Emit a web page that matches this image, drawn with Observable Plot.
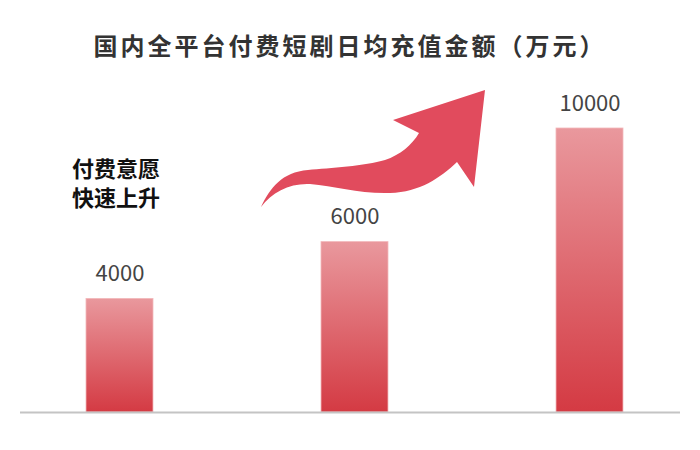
<!DOCTYPE html>
<html>
<head>
<meta charset="utf-8">
<script src="https://cdn.jsdelivr.net/npm/d3@7"></script>
<script src="https://cdn.jsdelivr.net/npm/@observablehq/plot@0.6"></script>
<style>
  body { margin: 0; background: #fff; }
  #title { height: 70px; width: 700px; box-sizing: border-box; padding-top: 29px; padding-left: 0px;
    text-align: center; font-family: "Noto Sans CJK SC", sans-serif; font-weight: bold;
    font-size: 24px; letter-spacing: 3px; color: #333; line-height: 32px; }
</style>
</head>
<body>
<div id="title">国内全平台付费短剧日均充值金额（万元）</div>
<div id="chart"></div>
<script>
const categories = ["A", "B", "C"];
const values = [4000, 6000, 10000];
const noteText = ["付费意愿\n快速上升"];
const noteValue = [8120];

const data = categories.map((c, i) => ({cat: c, value: values[i]}));

const gradientDefs = () => {
  const svg = d3.create("svg:g");
  const grad = svg.append("defs").append("linearGradient")
    .attr("id", "barGrad").attr("x1", 0).attr("y1", 0).attr("x2", 0).attr("y2", 1);
  grad.append("stop").attr("offset", "0%").attr("stop-color", "#e9989d");
  grad.append("stop").attr("offset", "100%").attr("stop-color", "#d43a43");
  return svg.node();
};

const arrowMark = () => {
  const g = d3.create("svg:g").attr("transform", "translate(0,-70)");
  g.append("path")
    .attr("d", "M261,207 C270,188 282,172 308,170 C330,168 365,166 385,160 C400,155 412,145 419,133 L393,120 L485,90 L474,187 L457,162 C440,178 420,192 390,193 C360,194 335,186 310,184 C290,183 272,192 261,207 Z")
    .attr("fill", "#e14b5d");
  return g.node();
};

const chart = Plot.plot({
  width: 700,
  height: 380,
  marginLeft: 20,
  marginRight: 20,
  marginTop: 58,
  marginBottom: 38,
  x: {domain: categories, range: [85.5, 622.5], paddingInner: 0.715, paddingOuter: 0, axis: null},
  y: {domain: [0, 10000], range: [342, 58], axis: null},
  style: {fontFamily: "'Noto Sans CJK SC', sans-serif", background: "#fff"},
  marks: [
    gradientDefs,
    Plot.barY(data, {x: "cat", y: "value", fill: "url(#barGrad)", stroke: "#f2b8bb", strokeWidth: 0.8}),
    Plot.ruleY([0], {stroke: "#c4c4c4", strokeWidth: 2}),
    Plot.text(data, {x: "cat", y: "value", text: d => String(d.value), dy: -25, fontSize: 22, fill: "#444"}),
    Plot.text(noteText, {x: () => categories[0], y: noteValue, text: d => d, fontSize: 22, fontWeight: "bold", fill: "#111", lineHeight: 1.32, dx: -4}),
    arrowMark
  ]
});
document.getElementById("chart").appendChild(chart);
</script>
</body>
</html>
